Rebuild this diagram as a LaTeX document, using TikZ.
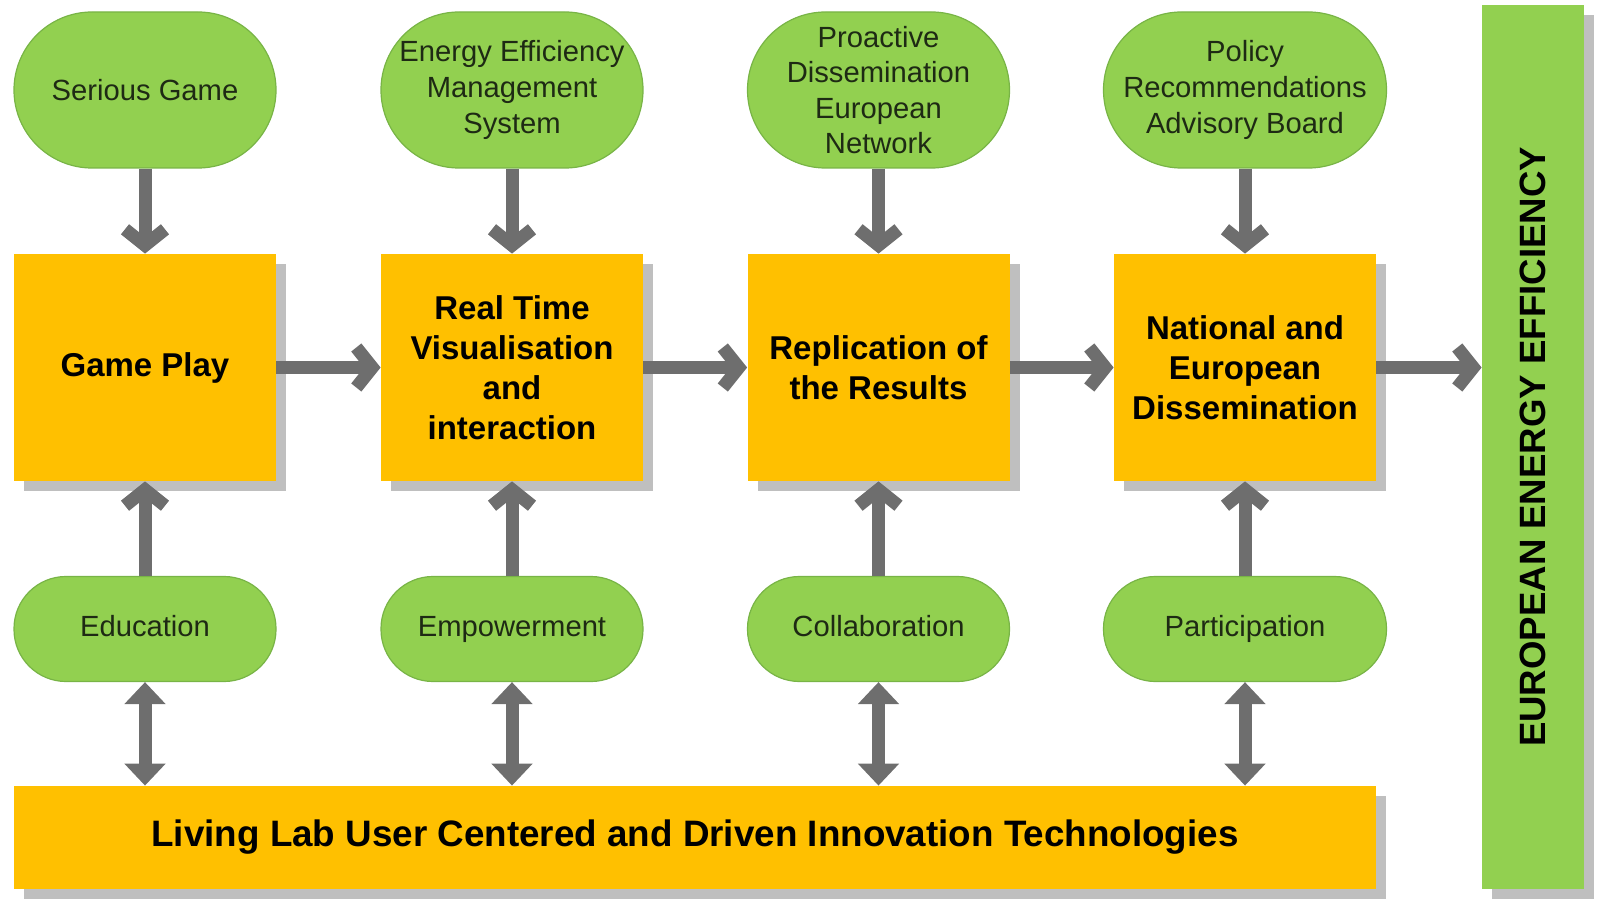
\documentclass[tikz,border=0pt]{standalone}
\usepackage{fontspec}
\setmainfont{Liberation Sans}
\usetikzlibrary{arrows.meta,shadows}
\definecolor{vert}{HTML}{92D050}
\definecolor{bordvert}{HTML}{78B446}
\definecolor{textevert}{HTML}{1E2A14}
\definecolor{jaune}{HTML}{FFC000}
\definecolor{gris}{HTML}{6E6E6E}
\definecolor{ombre}{HTML}{BFBFBF}
\begin{document}
\begin{tikzpicture}[x=0.5pt,y=-0.5pt,
  bulle/.style={draw=bordvert,line width=0.6pt,fill=vert,text=textevert,align=center,
    font=\fontsize{14.6}{17.8}\selectfont,inner sep=0pt},
  bullehaut/.style={bulle,minimum width=131pt,minimum height=78pt,rounded corners=39pt},
  bullebas/.style={bulle,minimum width=131pt,minimum height=52.5pt,rounded corners=26pt,
    text height=10.5pt,text depth=3pt},
  ombrage/.style={drop shadow={shadow xshift=5pt,shadow yshift=-5pt,fill=ombre,opacity=1}},
  boite/.style={fill=jaune,ombrage,align=center,inner sep=0pt,
    font=\bfseries\fontsize{16.5}{20}\selectfont,minimum width=131pt,minimum height=113.5pt},
  fleche/.style={draw=gris,line width=6.5pt,-{Straight Barb[length=8pt,width=20pt]}},
  flechedouble/.style={draw=gris,line width=6.5pt,
    {Triangle[length=11pt,width=20pt]}-{Triangle[length=11pt,width=20pt]}}]
\useasboundingbox (0,0) rectangle (1597,899);
% bulles du haut
\node[bullehaut] (jeuserieux) at (145,90) {Serious Game};
\node[bullehaut] (gestion) at (512,90) {Energy Efficiency\\Management\\System};
\node[bullehaut] (reseau) at (878.5,90) {Proactive\\Dissemination\\European\\Network};
\node[bullehaut,minimum width=141.5pt] (conseil) at (1245,90) {Policy\\Recommendations\\Advisory Board};
% boites centrales
\node[boite] (jeu) at (145,367.5) {Game Play};
\node[boite] (visu) at (512,367.5) {Real Time\\Visualisation\\and\\interaction};
\node[boite] (replication) at (878.5,367.5) {Replication of\\the Results};
\node[boite] (diffusion) at (1245,367.5) {National and\\European\\Dissemination};
% bulles du bas
\node[bullebas] (education) at (145,629) {Education};
\node[bullebas] (autonomie) at (512,629) {Empowerment};
\node[bullebas] (collab) at (878.5,629) {Collaboration};
\node[bullebas,minimum width=141.5pt] (participation) at (1245,629) {Participation};
% barres
\node[fill=jaune,ombrage,minimum width=681pt,minimum height=51.5pt,inner sep=0pt,
  font=\bfseries\fontsize{18.4}{22}\selectfont] (livinglab) at (695,837.5)
  {Living Lab User Centered and Driven Innovation Technologies};
\node[fill=vert,ombrage,minimum width=51pt,minimum height=442pt,inner sep=0pt] (efficacite) at (1533,447) {};
\node[rotate=90,font=\bfseries\fontsize{18.3}{22}\selectfont] at (efficacite) {EUROPEAN ENERGY EFFICIENCY};
% fleches
\draw[fleche] (jeuserieux) -- (jeu);
\draw[fleche] (gestion) -- (visu);
\draw[fleche] (reseau) -- (replication);
\draw[fleche] (conseil) -- (diffusion);
\draw[fleche] (jeu) -- (visu);
\draw[fleche] (visu) -- (replication);
\draw[fleche] (replication) -- (diffusion);
\draw[fleche] (diffusion.east) -- (diffusion.east -| efficacite.west);
\draw[fleche] (education) -- (jeu);
\draw[fleche] (autonomie) -- (visu);
\draw[fleche] (collab) -- (replication);
\draw[fleche] (participation) -- (diffusion);
\draw[flechedouble] (education.south) -- (education.south |- livinglab.north);
\draw[flechedouble] (autonomie.south) -- (autonomie.south |- livinglab.north);
\draw[flechedouble] (collab.south) -- (collab.south |- livinglab.north);
\draw[flechedouble] (participation.south) -- (participation.south |- livinglab.north);
\end{tikzpicture}
\end{document}
